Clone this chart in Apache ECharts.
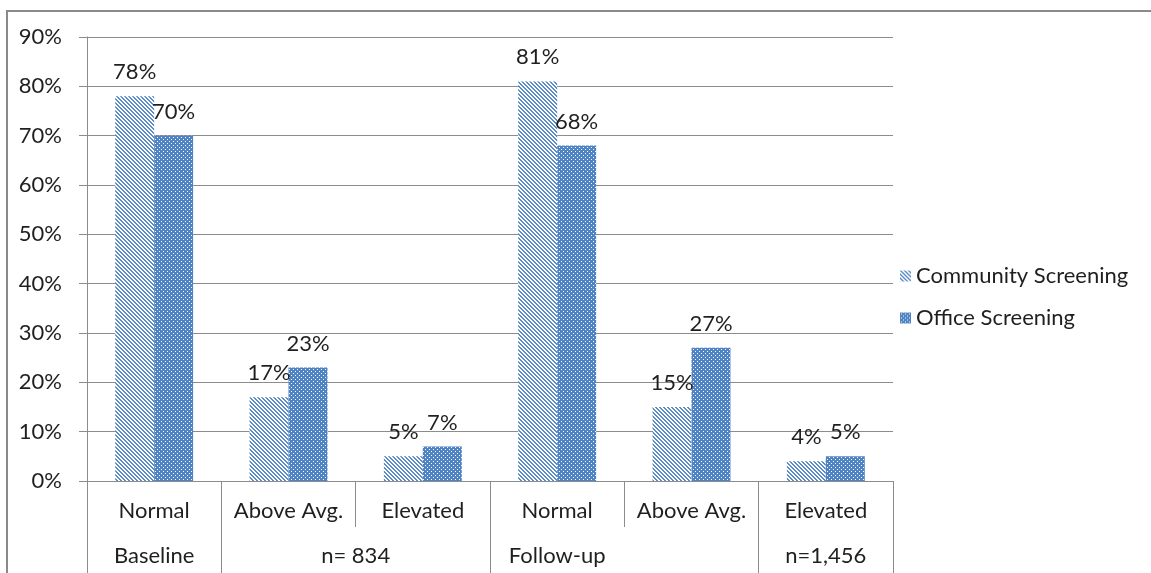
<!DOCTYPE html>
<html>
<head>
<meta charset="utf-8">
<script src="https://cdn.jsdelivr.net/npm/echarts@6/dist/echarts.min.js"></script>
<style>
  html, body { margin: 0; padding: 0; background: #fff; }
  #chart { width: 1151px; height: 573px; }
</style>
</head>
<body>
<div id="chart"></div>
<script>
// Screening result categories, two study periods
const categories = ['Normal', 'Above Avg.', 'Elevated', 'Normal', 'Above Avg.', 'Elevated'];
const communityScreening = [78, 17, 5, 81, 15, 4];
const officeScreening = [70, 23, 7, 68, 27, 5];
const yTicks = [0, 10, 20, 30, 40, 50, 60, 70, 80, 90];
// Second row of category labels, placed by category index
const groupLabels = ['Baseline', 'n= 834', 'Follow-up', 'n=1,456'];
const groupCenters = [0.5, 2, 3.5, 5.5];
const groupBounds = [0, 1, 3, 5, 6];

const FONT = 'Lato, "Open Sans", sans-serif';
const FS = 22;

// Diagonal stripe fill (top-left to bottom-right)
function stripePattern() {
  const c = document.createElement('canvas');
  c.width = 4; c.height = 4;
  const g = c.getContext('2d');
  g.fillStyle = '#ffffff';
  g.fillRect(0, 0, 4, 4);
  g.fillStyle = '#5c8cc8';
  for (let i = 0; i < 4; i++) {
    g.fillRect(i, i, 1, 1);
    g.fillRect((i + 1) % 4, i, 1, 1);
  }
  return c;
}

// Solid blue fill with a lattice of white dots
function dotPattern() {
  const c = document.createElement('canvas');
  c.width = 4; c.height = 4;
  const g = c.getContext('2d');
  g.fillStyle = '#4f84c4';
  g.fillRect(0, 0, 4, 4);
  g.fillStyle = '#ffffff';
  g.fillRect(1, 1, 1, 1);
  g.fillRect(3, 3, 1, 1);
  return c;
}

const chart = echarts.init(document.getElementById('chart'));

const labelStyle = {
  show: true,
  position: 'top',
  distance: 13,
  formatter: '{c}%',
  fontFamily: FONT,
  fontSize: FS,
  color: '#1f1f1f'
};

chart.setOption({
  animation: false,
  backgroundColor: '#ffffff',
  textStyle: { fontFamily: FONT },
  grid: { left: 87, top: 37, right: 258, bottom: 92 },
  legend: {
    orient: 'vertical',
    left: 895,
    top: 260,
    itemWidth: 11,
    itemHeight: 11,
    itemGap: 20,
    icon: 'rect',
    textStyle: { fontFamily: FONT, fontSize: FS, color: '#1f1f1f' },
    data: ['Community Screening', 'Office Screening']
  },
  xAxis: [
    {
      type: 'category',
      data: categories,
      axisLine: { show: true, lineStyle: { color: '#8c8c8c', width: 1 } },
      axisTick: { show: true, interval: 0, length: 46, alignWithLabel: false,
                  lineStyle: { color: '#8c8c8c' } },
      axisLabel: { interval: 0, margin: 19, fontFamily: FONT, fontSize: FS, color: '#1f1f1f' },
      splitLine: { show: false }
    },
    {
      type: 'value',
      position: 'bottom',
      min: 0,
      max: 6,
      axisLine: { show: false },
      axisTick: { show: true, length: 92, customValues: groupBounds,
                  lineStyle: { color: '#8c8c8c' } },
      axisLabel: {
        margin: 64,
        customValues: groupCenters,
        fontFamily: FONT,
        fontSize: FS,
        color: '#1f1f1f',
        formatter: function (v) {
          const i = groupCenters.indexOf(v);
          return i >= 0 ? groupLabels[i] : '';
        }
      },
      splitLine: { show: false }
    }
  ],
  yAxis: {
    type: 'value',
    min: yTicks[0],
    max: yTicks[yTicks.length - 1],
    interval: 10,
    axisLine: { show: true, lineStyle: { color: '#8c8c8c' } },
    axisTick: { show: true, length: 8, lineStyle: { color: '#8c8c8c' } },
    axisLabel: { margin: 25, formatter: '{value}%', fontFamily: FONT, fontSize: FS, color: '#1f1f1f' },
    splitLine: { show: true, lineStyle: { color: '#8c8c8c', width: 1 } }
  },
  series: [
    {
      name: 'Community Screening',
      type: 'bar',
      xAxisIndex: 0,
      data: communityScreening,
      barGap: '0%',
      barCategoryGap: '42%',
      itemStyle: { color: { image: stripePattern(), repeat: 'repeat' } },
      label: labelStyle
    },
    {
      name: 'Office Screening',
      type: 'bar',
      xAxisIndex: 0,
      data: officeScreening,
      barGap: '0%',
      barCategoryGap: '42%',
      itemStyle: { color: { image: dotPattern(), repeat: 'repeat' } },
      label: labelStyle
    }
  ],
  graphic: [
    { type: 'line', shape: { x1: 7, y1: 11, x2: 7, y2: 573 },
      style: { stroke: '#8a8a8a', lineWidth: 2 } },
    { type: 'line', shape: { x1: 6, y1: 11, x2: 1151, y2: 11 },
      style: { stroke: '#8a8a8a', lineWidth: 2 } }
  ]
});
</script>
</body>
</html>
